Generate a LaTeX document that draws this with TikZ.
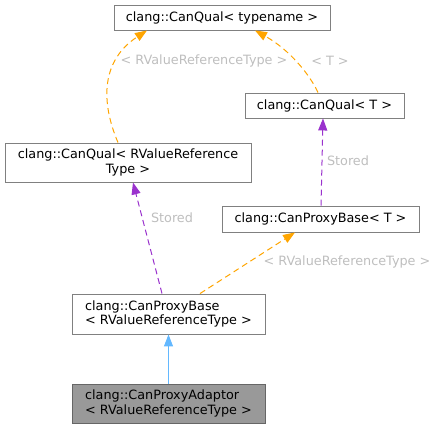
\documentclass[tikz,border=0pt]{standalone}
\usepackage{fontspec}
\setmainfont{DejaVu Sans}
\usetikzlibrary{arrows.meta}
\definecolor{edgeorange}{HTML}{FFA500}
\definecolor{edgepurple}{HTML}{9A32CD}
\definecolor{edgeblue}{HTML}{63B8FF}
\definecolor{boxborder}{HTML}{808080}
\definecolor{lblgray}{HTML}{BEBEBE}
\definecolor{boxfill}{HTML}{999999}
\begin{document}
\begin{tikzpicture}[x=1pt,y=-1pt,
  cls/.style={draw=boxborder, line width=0.9pt, fill=white, inner sep=0pt, font=\fontsize{12.8}{14.5}\selectfont},
  tip/.style={-{Triangle[length=12pt,width=9pt]}},
  tmpl/.style={tip, draw=edgeorange, dash pattern=on 6pt off 4pt, line width=1pt},
  use/.style={tip, draw=edgepurple, dash pattern=on 6pt off 4pt, line width=1pt},
  inh/.style={tip, draw=edgeblue, line width=1pt},
  lbl/.style={text=lblgray, inner sep=0pt, font=\fontsize{12.8}{14.5}\selectfont}]
\useasboundingbox (0,0) rectangle (439,429);
\node[cls, minimum width=216pt, minimum height=25pt] (A) at (222,17.5) {clang::CanQual< typename >};
\node[cls, minimum width=159pt, minimum height=25pt] (B) at (324.5,105.5) {clang::CanQual< T >};
\node[cls, minimum width=246pt, minimum height=39pt, align=center] (C) at (128,162.5) {clang::CanQual< RValueReference\\Type >};
\node[cls, minimum width=197pt, minimum height=26pt] (D) at (320.5,219) {clang::CanProxyBase< T >};
\node[cls, minimum width=193pt, minimum height=40pt, align=left] (E) at (168.5,314) {clang::CanProxyBase\\< RValueReferenceType >};
\node[cls, fill=boxfill, draw=boxborder!80!black, minimum width=193pt, minimum height=39pt, align=left] (F) at (168.5,403.5) {clang::CanProxyAdaptor\\< RValueReferenceType >};

\draw[tmpl] ([xshift=-10pt]C.north) .. controls (100,100) and (102,60) .. ([xshift=-75pt]A.south);
\draw[tmpl] ([xshift=-6.5pt]B.north) .. controls (310,75) and (290,50) .. ([xshift=33pt]A.south);
\draw[use] ([xshift=0.5pt]D.north) -- ([xshift=-1.5pt]B.south);
\draw[use] ([xshift=-6.5pt]E.north) -- ([xshift=5pt]C.south);
\draw[tmpl] ([xshift=31.5pt]E.north) -- ([xshift=-25.5pt]D.south);
\draw[inh] (F.north) -- (E.south);

\node[lbl] (l1) at (204,61) {< RValueReferenceType >};
\node[lbl] (l2) at (330,61) {< T >};
\node[lbl] (l3) at (348,161) {Stored};
\node[lbl] (l4) at (172,218) {Stored};
\node[lbl] (l5) at (347,262) {< RValueReferenceType >};
\end{tikzpicture}
\end{document}
